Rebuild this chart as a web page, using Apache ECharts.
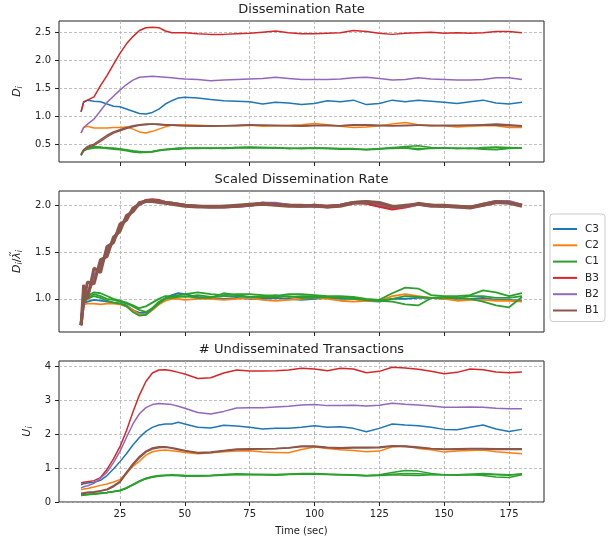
<!DOCTYPE html>
<html>
<head>
<meta charset="utf-8">
<script src="https://cdn.jsdelivr.net/npm/echarts@6/dist/echarts.min.js"></script>
<style>html,body{margin:0;padding:0;background:#fff;}#chart{width:613px;height:541px;}</style>
</head>
<body>
<div id="chart"></div>
<script>
// ---- data ----
const times = [10,11,12.5,15,17.5,20,22.5,25,27.5,30,32.5,35,37.5,40,42.5,45,47.5,50,55,60,65,70,75,80,85,90,95,100,105,110,115,120,125,130,135,140,145,150,155,160,165,170,175,180];

const xTicks = [25,50,75,100,125,150,175];
const rateTicks = [0.5,1.0,1.5,2.0,2.5];
const scaledTicks = [1.0,1.5,2.0];
const undissTicks = [0,1,2,3,4];

const legendNames = ['C3','C2','C1','B3','B2','B1'];

// Dissemination rate D_i
const rateC3 = [1.08,1.26,1.29,1.27,1.26,1.22,1.18,1.17,1.13,1.09,1.05,1.04,1.07,1.13,1.22,1.28,1.33,1.34,1.33,1.30,1.28,1.27,1.26,1.22,1.25,1.24,1.21,1.23,1.28,1.26,1.29,1.21,1.23,1.29,1.26,1.29,1.27,1.25,1.23,1.26,1.29,1.24,1.22,1.25];
const rateC2 = [0.70,0.80,0.82,0.79,0.79,0.79,0.80,0.80,0.81,0.77,0.72,0.70,0.73,0.77,0.81,0.84,0.85,0.85,0.84,0.83,0.83,0.83,0.84,0.82,0.83,0.84,0.85,0.87,0.85,0.82,0.80,0.81,0.83,0.86,0.89,0.85,0.83,0.83,0.81,0.82,0.83,0.83,0.80,0.80];
const rateC1a = [0.31,0.38,0.41,0.43,0.44,0.44,0.42,0.41,0.39,0.37,0.35,0.35,0.36,0.38,0.40,0.41,0.42,0.42,0.42,0.43,0.43,0.44,0.44,0.44,0.43,0.43,0.42,0.43,0.43,0.42,0.42,0.40,0.41,0.43,0.46,0.47,0.44,0.43,0.43,0.42,0.44,0.45,0.44,0.43];
const rateC1b = [0.32,0.40,0.43,0.46,0.45,0.42,0.41,0.40,0.38,0.36,0.35,0.36,0.37,0.39,0.41,0.42,0.43,0.43,0.43,0.42,0.43,0.44,0.45,0.44,0.44,0.42,0.42,0.42,0.42,0.42,0.41,0.41,0.42,0.44,0.44,0.42,0.42,0.43,0.42,0.43,0.41,0.40,0.42,0.43];
const rateC1c = [0.30,0.39,0.42,0.44,0.43,0.43,0.43,0.42,0.40,0.38,0.37,0.36,0.37,0.39,0.40,0.41,0.41,0.42,0.43,0.43,0.42,0.43,0.43,0.43,0.43,0.42,0.43,0.43,0.42,0.41,0.41,0.40,0.42,0.42,0.43,0.40,0.43,0.43,0.42,0.42,0.42,0.41,0.43,0.43];
const rateB3 = [1.08,1.25,1.29,1.35,1.55,1.73,1.93,2.13,2.30,2.43,2.54,2.59,2.60,2.59,2.53,2.50,2.50,2.50,2.48,2.47,2.47,2.48,2.49,2.51,2.53,2.50,2.48,2.48,2.49,2.50,2.54,2.52,2.49,2.47,2.49,2.50,2.51,2.49,2.50,2.49,2.50,2.52,2.52,2.50];
const rateB2 = [0.70,0.80,0.86,0.95,1.10,1.25,1.36,1.47,1.57,1.65,1.70,1.71,1.72,1.71,1.70,1.69,1.68,1.67,1.66,1.64,1.65,1.66,1.67,1.68,1.70,1.68,1.66,1.66,1.66,1.67,1.69,1.70,1.68,1.65,1.66,1.69,1.67,1.66,1.65,1.65,1.66,1.69,1.69,1.66];
const rateB1a = [0.31,0.40,0.46,0.50,0.58,0.66,0.72,0.76,0.80,0.83,0.85,0.86,0.86,0.86,0.85,0.85,0.84,0.83,0.83,0.83,0.83,0.84,0.85,0.84,0.83,0.83,0.83,0.84,0.84,0.83,0.85,0.85,0.84,0.83,0.84,0.84,0.83,0.84,0.84,0.84,0.85,0.86,0.85,0.83];
const rateB1b = [0.30,0.38,0.44,0.48,0.55,0.63,0.70,0.74,0.78,0.81,0.84,0.85,0.86,0.85,0.84,0.84,0.83,0.83,0.82,0.82,0.83,0.83,0.84,0.84,0.84,0.83,0.82,0.83,0.83,0.83,0.84,0.84,0.83,0.83,0.83,0.84,0.84,0.83,0.83,0.84,0.84,0.84,0.83,0.82];

// Scaled dissemination rate D_i / lambda_i
const scaledC3 = [0.72,0.95,0.97,0.99,0.98,0.97,0.96,0.95,0.93,0.88,0.85,0.85,0.90,0.96,1.00,1.04,1.06,1.05,1.02,1.01,1.00,1.01,1.00,1.00,1.01,1.00,0.99,1.00,1.01,1.00,1.00,0.98,0.97,1.00,1.00,1.01,1.01,1.00,1.00,1.00,1.01,0.99,0.99,0.98];
const scaledC2 = [0.72,0.94,0.95,0.95,0.94,0.95,0.95,0.94,0.92,0.88,0.83,0.83,0.88,0.94,0.98,1.00,1.00,0.99,1.00,1.00,0.99,1.00,1.01,0.99,0.98,0.99,1.00,1.01,1.00,0.98,0.97,0.98,0.98,1.03,1.05,1.03,1.01,1.00,0.98,0.99,0.99,0.98,0.98,0.97];
const scaledC1a = [0.72,0.98,1.03,1.07,1.06,1.03,1.00,0.98,0.96,0.93,0.90,0.92,0.96,1.00,1.03,1.03,1.04,1.05,1.07,1.05,1.04,1.05,1.05,1.04,1.03,1.05,1.05,1.04,1.03,1.03,1.02,1.00,0.99,1.06,1.12,1.11,1.04,1.03,1.03,1.04,1.09,1.07,1.03,1.06];
const scaledC1b = [0.72,0.96,1.00,1.03,1.01,0.98,0.96,0.95,0.92,0.86,0.82,0.83,0.89,0.95,1.00,1.02,1.03,1.02,1.04,1.02,1.03,1.03,1.02,1.02,1.02,1.03,1.01,1.01,1.02,1.01,1.00,0.99,0.98,1.00,1.03,1.02,1.01,1.02,1.01,1.00,0.97,0.93,0.91,1.02];
const scaledC1c = [0.72,0.97,1.01,1.05,1.03,1.00,0.99,0.97,0.95,0.92,0.88,0.86,0.90,0.97,1.01,1.01,1.02,1.03,1.01,1.01,1.06,1.04,1.02,1.03,1.04,1.02,1.03,1.03,1.02,1.02,1.01,0.99,0.98,0.97,0.94,0.93,1.01,1.01,1.01,1.03,1.03,1.01,1.01,1.03];
const scaledB3 = [0.72,0.98,1.06,1.22,1.36,1.50,1.63,1.76,1.86,1.95,2.02,2.05,2.06,2.05,2.03,2.02,2.01,2.00,1.99,1.98,1.98,1.99,2.00,2.02,2.01,2.00,1.99,2.00,1.99,2.00,2.03,2.02,1.99,1.96,1.98,2.01,2.00,1.99,1.99,1.98,2.00,2.03,2.03,2.00];
const scaledB2 = [0.72,1.00,1.04,1.25,1.34,1.51,1.62,1.75,1.87,1.94,2.01,2.04,2.05,2.04,2.03,2.02,2.01,2.00,1.99,1.98,1.99,1.99,2.00,2.02,2.02,2.00,1.99,1.99,1.98,2.00,2.03,2.04,2.01,1.98,1.99,2.01,2.00,1.99,1.98,1.98,2.01,2.04,2.04,2.00];
const scaledB1a = [0.72,1.15,1.00,1.33,1.28,1.56,1.60,1.80,1.84,1.97,2.01,2.05,2.05,2.04,2.03,2.02,2.01,2.00,1.99,1.99,1.99,2.00,2.01,2.02,2.01,2.00,2.00,1.99,1.99,2.00,2.03,2.04,2.03,1.99,1.99,2.02,2.00,2.00,1.99,1.98,2.01,2.04,2.03,2.00];
const scaledB1b = [0.72,0.97,1.18,1.16,1.42,1.45,1.66,1.72,1.89,1.93,2.03,2.04,2.04,2.03,2.02,2.01,2.00,1.99,1.98,1.98,1.98,1.99,2.00,2.01,2.00,1.99,1.99,2.00,1.98,1.99,2.02,2.03,2.02,1.98,2.00,2.01,1.99,1.99,1.98,1.97,2.00,2.03,2.02,1.99];

// Undisseminated transactions U_i
const undissC3 = [0.51,0.54,0.56,0.58,0.64,0.78,0.97,1.19,1.42,1.68,1.90,2.08,2.20,2.27,2.30,2.30,2.35,2.30,2.20,2.18,2.26,2.24,2.20,2.15,2.17,2.17,2.20,2.25,2.20,2.22,2.17,2.07,2.17,2.30,2.27,2.25,2.20,2.14,2.13,2.20,2.27,2.15,2.08,2.14];
const undissC2 = [0.36,0.38,0.40,0.44,0.49,0.53,0.59,0.66,0.85,1.05,1.20,1.38,1.48,1.52,1.53,1.51,1.49,1.46,1.42,1.45,1.48,1.50,1.51,1.47,1.46,1.45,1.55,1.62,1.58,1.54,1.52,1.48,1.50,1.63,1.65,1.58,1.54,1.47,1.50,1.52,1.53,1.48,1.45,1.42];
const undissC1a = [0.21,0.22,0.23,0.24,0.26,0.28,0.31,0.35,0.42,0.52,0.62,0.70,0.75,0.78,0.79,0.80,0.79,0.78,0.77,0.78,0.80,0.83,0.82,0.81,0.80,0.82,0.84,0.84,0.82,0.81,0.80,0.78,0.80,0.87,0.93,0.91,0.84,0.80,0.80,0.81,0.82,0.80,0.79,0.83];
const undissC1b = [0.19,0.20,0.21,0.23,0.25,0.27,0.30,0.33,0.40,0.50,0.60,0.68,0.73,0.76,0.78,0.78,0.77,0.76,0.76,0.77,0.79,0.81,0.80,0.80,0.79,0.81,0.82,0.82,0.81,0.80,0.79,0.77,0.79,0.82,0.84,0.83,0.81,0.80,0.79,0.80,0.78,0.74,0.72,0.80];
const undissC1c = [0.20,0.21,0.22,0.24,0.26,0.28,0.31,0.34,0.41,0.51,0.61,0.69,0.74,0.77,0.78,0.79,0.79,0.78,0.78,0.78,0.81,0.82,0.81,0.81,0.81,0.82,0.83,0.83,0.82,0.80,0.79,0.77,0.78,0.80,0.79,0.78,0.80,0.80,0.80,0.82,0.84,0.82,0.80,0.82];
const undissB3 = [0.56,0.58,0.60,0.63,0.72,0.96,1.27,1.63,2.10,2.65,3.15,3.55,3.80,3.89,3.90,3.87,3.82,3.77,3.64,3.66,3.80,3.89,3.86,3.86,3.87,3.89,3.94,3.92,3.87,3.94,3.92,3.81,3.85,3.97,3.95,3.91,3.85,3.78,3.82,3.92,3.90,3.83,3.81,3.83];
const undissB2 = [0.41,0.45,0.48,0.55,0.70,0.88,1.16,1.49,1.90,2.30,2.60,2.78,2.87,2.90,2.89,2.87,2.82,2.76,2.64,2.59,2.67,2.77,2.78,2.78,2.80,2.82,2.86,2.87,2.84,2.84,2.85,2.83,2.85,2.91,2.88,2.86,2.83,2.79,2.79,2.80,2.79,2.76,2.75,2.75];
const undissB1a = [0.26,0.27,0.29,0.30,0.33,0.38,0.48,0.61,0.88,1.13,1.34,1.50,1.59,1.63,1.63,1.60,1.56,1.52,1.46,1.47,1.52,1.56,1.57,1.57,1.58,1.60,1.65,1.65,1.61,1.60,1.61,1.61,1.62,1.66,1.65,1.62,1.58,1.56,1.57,1.58,1.58,1.57,1.57,1.57];
const undissB1b = [0.24,0.25,0.27,0.29,0.32,0.36,0.45,0.58,0.84,1.09,1.30,1.47,1.56,1.60,1.61,1.58,1.54,1.50,1.44,1.45,1.50,1.54,1.55,1.56,1.57,1.59,1.63,1.63,1.60,1.58,1.59,1.59,1.60,1.64,1.63,1.60,1.57,1.55,1.55,1.56,1.56,1.55,1.55,1.55];

// ---- chart ----
const FONT = 'DejaVu Sans';
const COLORS = {C3:'#1f77b4', C2:'#ff7f0e', C1:'#2ca02c', B3:'#d62728', B2:'#9467bd', B1:'#8c564b'};
const pair = arr => times.map((t, i) => [t, arr[i]]);

const panels = [
  {C3:[rateC3], C2:[rateC2], C1:[rateC1a,rateC1b,rateC1c], B3:[rateB3], B2:[rateB2], B1:[rateB1a,rateB1b]},
  {C3:[scaledC3], C2:[scaledC2], C1:[scaledC1a,scaledC1b,scaledC1c], B3:[scaledB3], B2:[scaledB2], B1:[scaledB1a,scaledB1b]},
  {C3:[undissC3], C2:[undissC2], C1:[undissC1a,undissC1b,undissC1c], B3:[undissB3], B2:[undissB2], B1:[undissB1a,undissB1b]}
];

const series = [];
panels.forEach((p, gi) => {
  legendNames.forEach(name => {
    p[name].forEach(arr => {
      series.push({
        type: 'line', name: name, xAxisIndex: gi, yAxisIndex: gi,
        data: pair(arr), showSymbol: false, symbol: 'none', animation: false,
        lineStyle: {color: COLORS[name], width: (gi === 1 && name[0] === 'B') ? 3 : (gi === 1 ? 1.8 : 1.5)},
        itemStyle: {color: COLORS[name]}
      });
    });
  });
});

const gridTops = [21, 191, 361];
const gridH = 141;
const splitStyle = {show: true, lineStyle: {type: [3, 2], color: '#b0b0b0', width: 0.8}};

const xAxes = gridTops.map((_, i) => ({
  type: 'value', gridIndex: i, min: 1.5, max: 188.5,
  axisLine: {show: false, onZero: false},
  axisTick: {show: true, length: 4, customValues: xTicks, lineStyle: {color: '#222'}},
  axisLabel: {show: i === 2, customValues: xTicks, fontSize: 10, color: '#222', fontFamily: FONT, margin: 7},
  splitLine: splitStyle,
  name: i === 2 ? 'Time (sec)' : '', nameLocation: 'middle', nameGap: 24,
  nameTextStyle: {fontSize: 10, color: '#222', fontFamily: FONT}
}));

const nameRich = {
  it: {fontSize: 11, fontStyle: 'italic', fontFamily: FONT, color: '#222'},
  n: {fontSize: 11, fontFamily: FONT, color: '#222'},
  sub: {fontSize: 8, fontStyle: 'italic', fontFamily: FONT, color: '#222', padding: [6, 0, 0, 0]}
};

const yDefs = [
  {min: 0.18, max: 2.71, ticks: rateTicks, fmt: v => v.toFixed(1), name: '{it|D}{sub|i}', gap: 32},
  {min: 0.646, max: 2.152, ticks: scaledTicks, fmt: v => v.toFixed(1), name: '{it|D}{sub|i}{n|/}{it|λ̃}{sub|i}', gap: 31},
  {min: 0, max: 4.155, ticks: undissTicks, fmt: v => String(Math.round(v)), name: '{it|U}{sub|i}', gap: 21}
];

const yAxes = yDefs.map((d, i) => ({
  type: 'value', gridIndex: i, min: d.min, max: d.max,
  axisLine: {show: false, onZero: false},
  axisTick: {show: true, length: 4, customValues: d.ticks, lineStyle: {color: '#222'}},
  axisLabel: {customValues: d.ticks, formatter: d.fmt, fontSize: 10, color: '#222', fontFamily: FONT, margin: 8},
  splitLine: splitStyle,
  name: d.name, nameLocation: 'middle', nameGap: d.gap, nameRotate: 90,
  nameTextStyle: {rich: nameRich, fontFamily: FONT}
}));

const titles = ['Dissemination Rate', 'Scaled Dissemination Rate', '# Undisseminated Transactions'].map((t, i) => ({
  text: t, left: 301.5, top: gridTops[i] - 17.5, textAlign: 'center', padding: 0,
  textStyle: {fontSize: 13, fontWeight: 'normal', color: '#222', fontFamily: FONT}
}));

const chart = echarts.init(document.getElementById('chart'), null, {renderer: 'canvas'});
chart.setOption({
  animation: false,
  backgroundColor: '#fff',
  title: titles,
  grid: gridTops.map(t => ({left: 59, top: t, width: 485, height: gridH, show: true, borderColor: '#222', borderWidth: 1, backgroundColor: 'transparent'})),
  xAxis: xAxes,
  yAxis: yAxes,
  legend: {
    orient: 'vertical', left: 550, top: 214,
    data: legendNames.map(n => ({name: n, icon: 'rect'})),
    itemWidth: 24, itemHeight: 2, itemGap: 2.3,
    textStyle: {fontSize: 10.5, color: '#222', fontFamily: FONT, lineHeight: 14, padding: [0, 0, 0, 3]},
    padding: [8, 6, 4, 3],
    borderColor: '#ccc', borderWidth: 1, borderRadius: 3,
    backgroundColor: 'rgba(255,255,255,0.8)'
  },
  series: series
});
</script>
</body>
</html>
